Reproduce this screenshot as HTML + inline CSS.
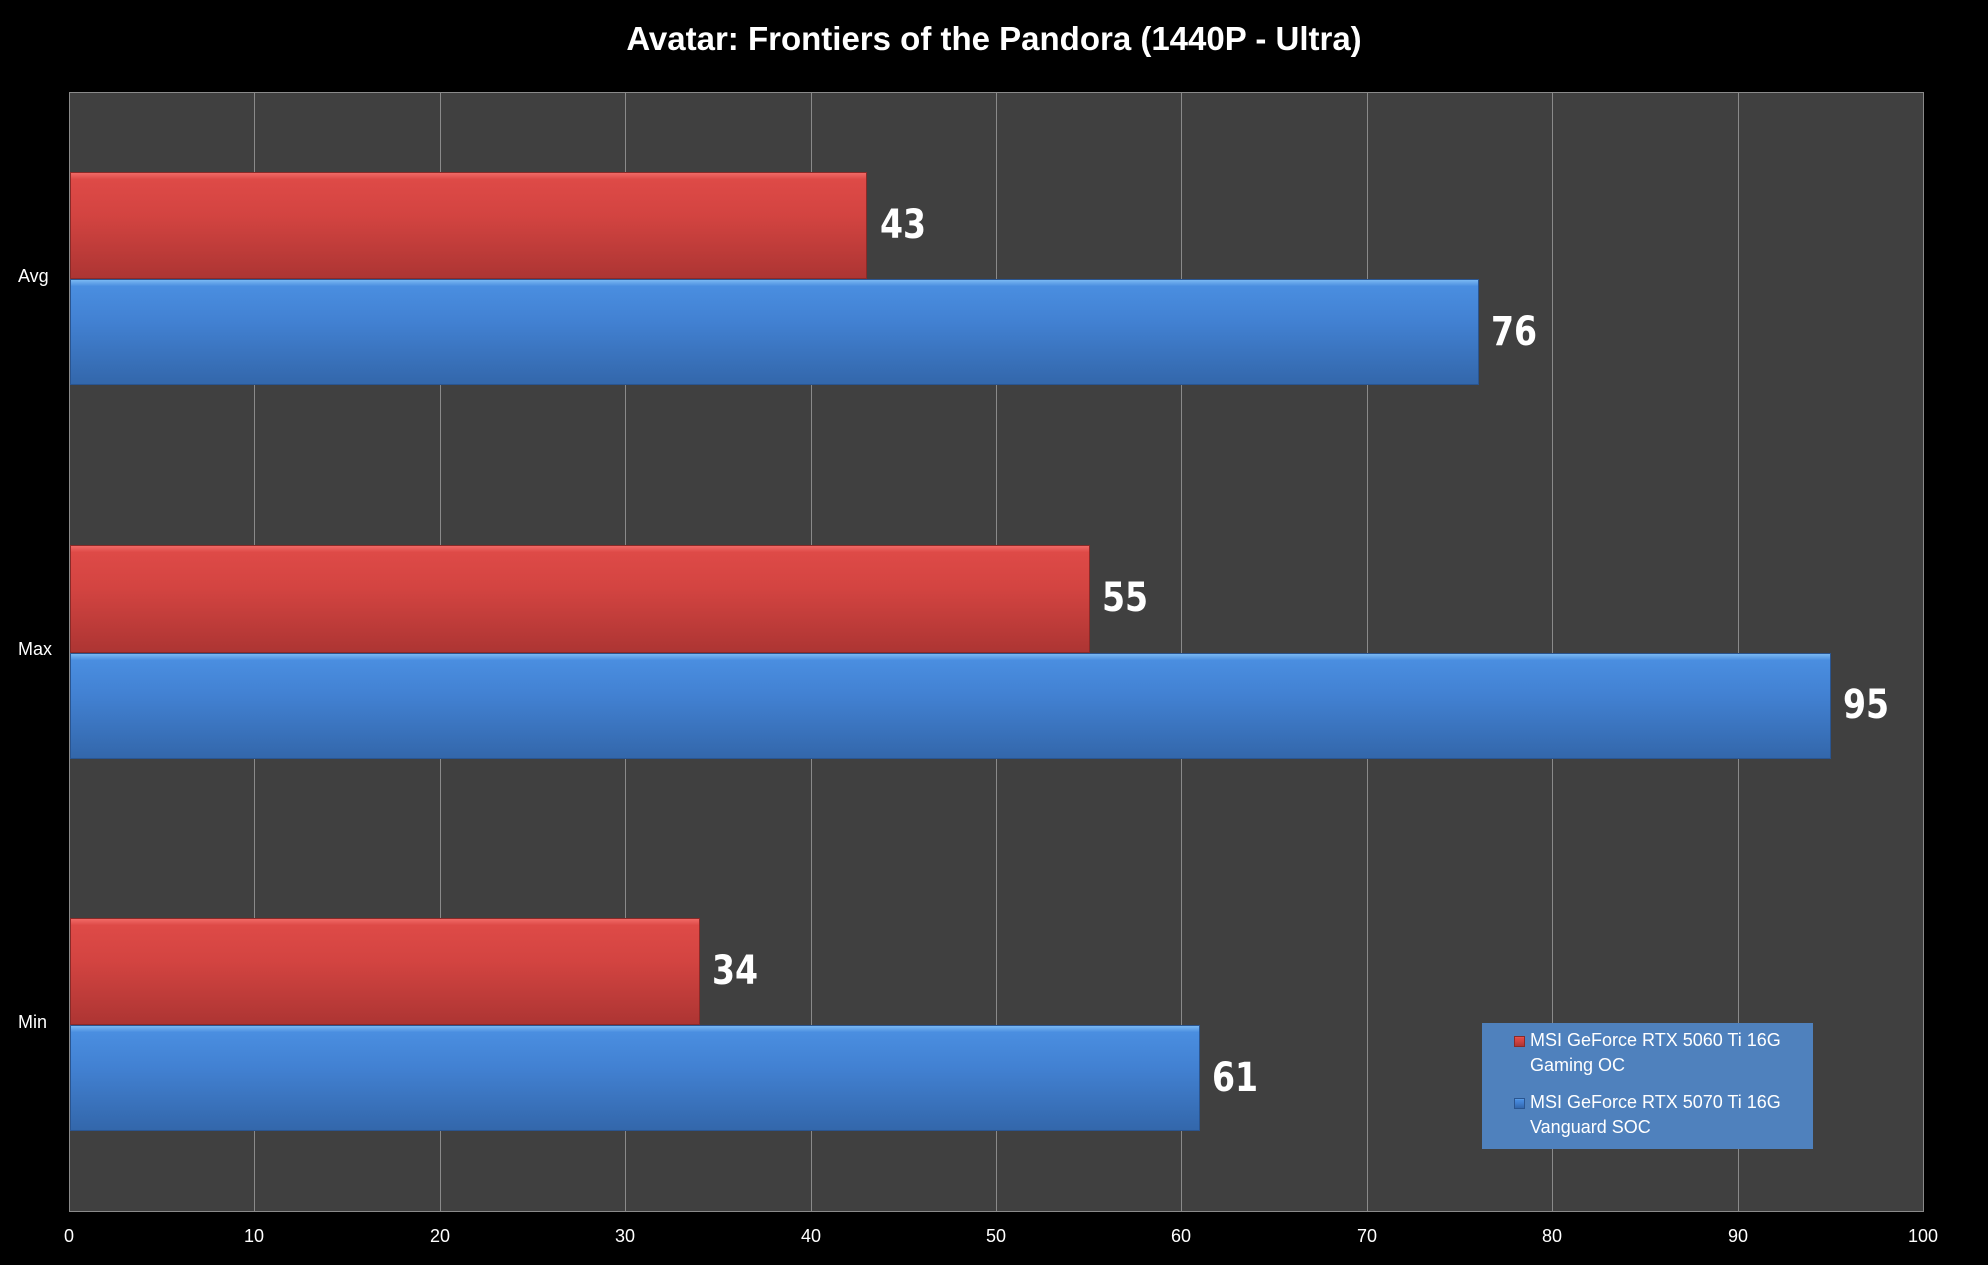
<!DOCTYPE html><html><head><style>
body{margin:0;background:#000;width:1988px;height:1265px;overflow:hidden;font-family:"Liberation Sans",sans-serif;color:#fff;position:relative}
.a{position:absolute}
.r{background:linear-gradient(#f06a66 0,#de4a47 6%,#d34441 40%,#ad3533 100%);border:1px solid #8a2a28;box-sizing:border-box}
.b{background:linear-gradient(#7ab8f2 0,#4a8ee0 6%,#4281d2 40%,#3367ab 100%);border:1px solid #2a5590;box-sizing:border-box}
.v{font-size:40px;font-family:"DejaVu Sans Condensed","Liberation Sans Narrow",sans-serif;transform:scaleX(.92);transform-origin:left;font-weight:bold}
.t{font-size:18px;width:60px;margin-left:-30px;text-align:center;top:1226px}
.c{font-size:18px;left:18px}
.g{top:92px;height:1120px;width:1px;background:#8a8a8a}
</style></head><body>
<div class="a" style="left:0;width:1988px;top:20px;text-align:center;font-size:33px;font-weight:bold">Avatar: Frontiers of the Pandora (1440P - Ultra)</div>
<div class="a" style="left:69px;top:92px;width:1855px;height:1120px;background:#404040;border:1px solid #8a8a8a;box-sizing:border-box"></div>
<div class="a g" style="left:254px"></div><div class="a g" style="left:440px"></div><div class="a g" style="left:625px"></div><div class="a g" style="left:811px"></div><div class="a g" style="left:996px"></div><div class="a g" style="left:1181px"></div><div class="a g" style="left:1367px"></div><div class="a g" style="left:1552px"></div><div class="a g" style="left:1738px"></div>
<div class="a t" style="left:69px">0</div><div class="a t" style="left:254px">10</div><div class="a t" style="left:440px">20</div><div class="a t" style="left:625px">30</div><div class="a t" style="left:811px">40</div><div class="a t" style="left:996px">50</div><div class="a t" style="left:1181px">60</div><div class="a t" style="left:1367px">70</div><div class="a t" style="left:1552px">80</div><div class="a t" style="left:1738px">90</div><div class="a t" style="left:1923px">100</div>
<div class="a c" style="top:266px">Avg</div><div class="a c" style="top:639px">Max</div><div class="a c" style="top:1012px">Min</div>
<div class="a r" style="left:70px;top:172px;width:797px;height:107px"></div><div class="a v" style="left:880px;top:202px">43</div>
<div class="a b" style="left:70px;top:279px;width:1409px;height:106px"></div><div class="a v" style="left:1491px;top:309px">76</div>
<div class="a r" style="left:70px;top:545px;width:1020px;height:108px"></div><div class="a v" style="left:1102px;top:575px">55</div>
<div class="a b" style="left:70px;top:653px;width:1761px;height:106px"></div><div class="a v" style="left:1843px;top:682px">95</div>
<div class="a r" style="left:70px;top:918px;width:630px;height:107px"></div><div class="a v" style="left:712px;top:948px">34</div>
<div class="a b" style="left:70px;top:1025px;width:1130px;height:106px"></div><div class="a v" style="left:1212px;top:1055px">61</div>
<div class="a" style="left:1482px;top:1023px;width:331px;height:126px;background:#4f81bd;font-size:18px;line-height:25px">
<div class="a r" style="left:32px;top:13px;width:11px;height:11px"></div>
<div class="a" style="left:48px;top:5px">MSI GeForce RTX 5060 Ti 16G<br>Gaming OC</div>
<div class="a b" style="left:32px;top:75px;width:11px;height:11px"></div>
<div class="a" style="left:48px;top:67px">MSI GeForce RTX 5070 Ti 16G<br>Vanguard SOC</div>
</div>
</body></html>
